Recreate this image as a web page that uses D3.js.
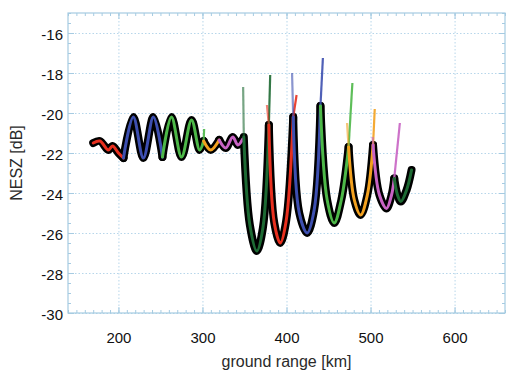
<!DOCTYPE html>
<html>
<head>
<meta charset="utf-8">
<script src="https://cdn.jsdelivr.net/npm/d3@7"></script>
<style>
  body { margin: 0; background: #fff; }
  text { font-family: "Liberation Sans", Arial, sans-serif; }
</style>
</head>
<body>
<svg></svg>
<script>
// NESZ vs ground range

let width = 507,
    height = 373;

// tick values
let xTicks = [200, 300, 400, 500, 600];
let yTicks = [-30, -28, -26, -24, -22, -20, -18, -16];

// colours of the beam segments, left to right
let segColors = ["#e8301f", "#3d4fb0", "#4db848", "#f3a11f", "#c863c4",
                 "#1d6a33", "#e8301f", "#3d4fb0", "#4db848", "#f3a11f",
                 "#c863c4", "#1d6a33"];

// [ground range km, NESZ dB] per segment
let segPoints = [
    [[170, -21.5], [178, -21.4], [188, -21.85], [193, -21.65], [200, -22.0], [206, -22.25]],
    [[206, -22.25], [217.7, -20.2], [229.7, -22.25], [241.6, -20.2], [252.4, -22.2]],
    [[252.4, -22.2], [263.1, -20.2], [275.1, -22.2], [287, -20.35], [296.6, -21.85], [301.4, -21.4]],
    [[301.4, -21.4], [309.8, -21.85], [319.9, -21.35]],
    [[319.9, -21.35], [327.7, -21.75], [336.1, -21.2], [342, -21.6], [348, -21.3]],
    [[349.2, -21.2], [356.4, -25.6], [364.7, -26.9], [371.9, -25.75], [379, -20.6]],
    [[379, -20.6], [385.5, -25.5], [392.6, -26.5], [399.4, -25.45], [408, -20.2]],
    [[408, -20.2], [415.2, -25.0], [424.5, -26.0], [432.9, -24.85], [440.4, -19.65]],
    [[440.4, -19.65], [448.4, -24.35], [456.8, -25.5], [465.2, -24.35], [473.9, -21.7]],
    [[473.9, -21.7], [480.7, -24.35], [488.2, -25.1], [496.2, -24.1], [503.0, -21.6]],
    [[503.0, -21.6], [510.6, -24.1], [519.0, -24.77], [525.0, -24.1], [528.2, -23.27]],
    [[528.2, -23.27], [532.1, -24.1], [536.0, -24.43], [542.9, -23.85], [548.8, -22.85]]
];

// thin coloured tails rising past the envelope: [left top, right top]
let segTails = [
    [null, null],
    [null, null],
    [null, [302, -20.8]],
    [null, null],
    [null, null],
    [[348.4, -18.7], [380.6, -18.1]],
    [[376.7, -19.6], [412, -19.1]],
    [[406.6, -18.0], [443.3, -17.25]],
    [null, [478.4, -18.5]],
    [[472, -20.5], [505, -19.8]],
    [[502.5, -21.2], [534.9, -20.5]],
    [null, null]
];

let plot = {left: 68, right: 505, top: 13, bottom: 313};

let svg = d3.select("svg")
    .attr("width", width)
    .attr("height", height);

let x = d3.scaleLinear().domain([140, 660]).range([plot.left, plot.right]);
let y = d3.scaleLinear().domain([-30, -15]).range([plot.bottom, plot.top]);

let frameColor = "#a6cbe2";

// dotted grid
svg.append("g")
    .attr("transform", `translate(0,${plot.bottom})`)
    .call(d3.axisBottom(x).tickValues(xTicks).tickSize(-(plot.bottom - plot.top)).tickFormat(""))
    .call(g => g.select(".domain").remove())
    .selectAll("line")
    .attr("stroke", "#b7d6ea")
    .attr("stroke-dasharray", "1.5,2");

svg.append("g")
    .attr("transform", `translate(${plot.left},0)`)
    .call(d3.axisLeft(y).tickValues(yTicks).tickSize(-(plot.right - plot.left)).tickFormat(""))
    .call(g => g.select(".domain").remove())
    .selectAll("line")
    .attr("stroke", "#b7d6ea")
    .attr("stroke-dasharray", "1.5,2");

// inward ticks on all four sides
let xMinor = d3.range(140, 661, 10);
let yMinor = d3.range(-30, -14.9, 0.5);

function tickAxes(axisFn, scale, values, size, translate) {
    svg.append("g")
        .attr("transform", translate)
        .call(axisFn(scale).tickValues(values).tickSize(size).tickFormat(""))
        .call(g => g.select(".domain").remove())
        .selectAll("line")
        .attr("stroke", frameColor);
}

tickAxes(d3.axisBottom, x, xMinor, -3, `translate(0,${plot.bottom})`);
tickAxes(d3.axisTop, x, xMinor, -3, `translate(0,${plot.top})`);
tickAxes(d3.axisLeft, y, yMinor, -3, `translate(${plot.left},0)`);
tickAxes(d3.axisRight, y, yMinor, -3, `translate(${plot.right},0)`);
tickAxes(d3.axisBottom, x, xTicks, -6, `translate(0,${plot.bottom})`);
tickAxes(d3.axisTop, x, xTicks, -6, `translate(0,${plot.top})`);
tickAxes(d3.axisLeft, y, yTicks, -6, `translate(${plot.left},0)`);
tickAxes(d3.axisRight, y, yTicks, -6, `translate(${plot.right},0)`);

// frame
svg.append("rect")
    .attr("x", plot.left)
    .attr("y", plot.top)
    .attr("width", plot.right - plot.left)
    .attr("height", plot.bottom - plot.top)
    .attr("fill", "none")
    .attr("stroke", frameColor)
    .attr("stroke-width", 1.2);

// tick labels, plain hyphen for the minus sign as in the original
let plain = d => String(d);

let xAxis = svg.append("g")
    .attr("transform", `translate(0,${plot.bottom})`)
    .call(d3.axisBottom(x).tickValues(xTicks).tickSize(0).tickPadding(19).tickFormat(plain));
xAxis.select(".domain").remove();
xAxis.selectAll("text").style("font-size", "15px").attr("fill", "#111");

let yAxis = svg.append("g")
    .attr("transform", `translate(${plot.left},0)`)
    .call(d3.axisLeft(y).tickValues(yTicks).tickSize(0).tickPadding(5).tickFormat(plain));
yAxis.select(".domain").remove();
yAxis.selectAll("text").style("font-size", "15px").attr("fill", "#111").attr("dy", "0.4em");

// axis titles
svg.append("text")
    .attr("x", (plot.left + plot.right) / 2)
    .attr("y", 367)
    .attr("text-anchor", "middle")
    .style("font-size", "16px")
    .attr("fill", "#2a2a2a")
    .text("ground range [km]");

svg.append("text")
    .attr("transform", `translate(22,${(plot.top + plot.bottom) / 2}) rotate(-90)`)
    .attr("text-anchor", "middle")
    .style("font-size", "16px")
    .attr("fill", "#2a2a2a")
    .text("NESZ [dB]");

// curves
let line = d3.line()
    .x(d => x(d[0]))
    .y(d => y(d[1]))
    .curve(d3.curveCatmullRom.alpha(0.5));

let curves = svg.append("g");

curves.selectAll(".outline")
    .data(segPoints)
    .enter()
    .append("path")
    .attr("class", "outline")
    .attr("d", line)
    .attr("fill", "none")
    .attr("stroke", "#000")
    .attr("stroke-width", 8)
    .attr("stroke-linecap", "round")
    .attr("stroke-linejoin", "round");

// tails go under the coloured curves
segTails.forEach(function(t, i) {
    let pts = segPoints[i];
    let ends = [pts[0], pts[pts.length - 1]];
    t.forEach(function(top, k) {
        if (!top) return;
        curves.append("line")
            .attr("x1", x(ends[k][0]))
            .attr("y1", y(ends[k][1]))
            .attr("x2", x(top[0]))
            .attr("y2", y(top[1]))
            .attr("stroke", segColors[i])
            .attr("stroke-width", 2.2)
            .attr("opacity", k === 0 ? 0.6 : 0.9);
    });
});

curves.selectAll(".seg")
    .data(segPoints)
    .enter()
    .append("path")
    .attr("class", "seg")
    .attr("d", line)
    .attr("fill", "none")
    .attr("stroke", (d, i) => segColors[i])
    .attr("stroke-width", 3)
    .attr("stroke-linecap", "round");
</script>
</body>
</html>
